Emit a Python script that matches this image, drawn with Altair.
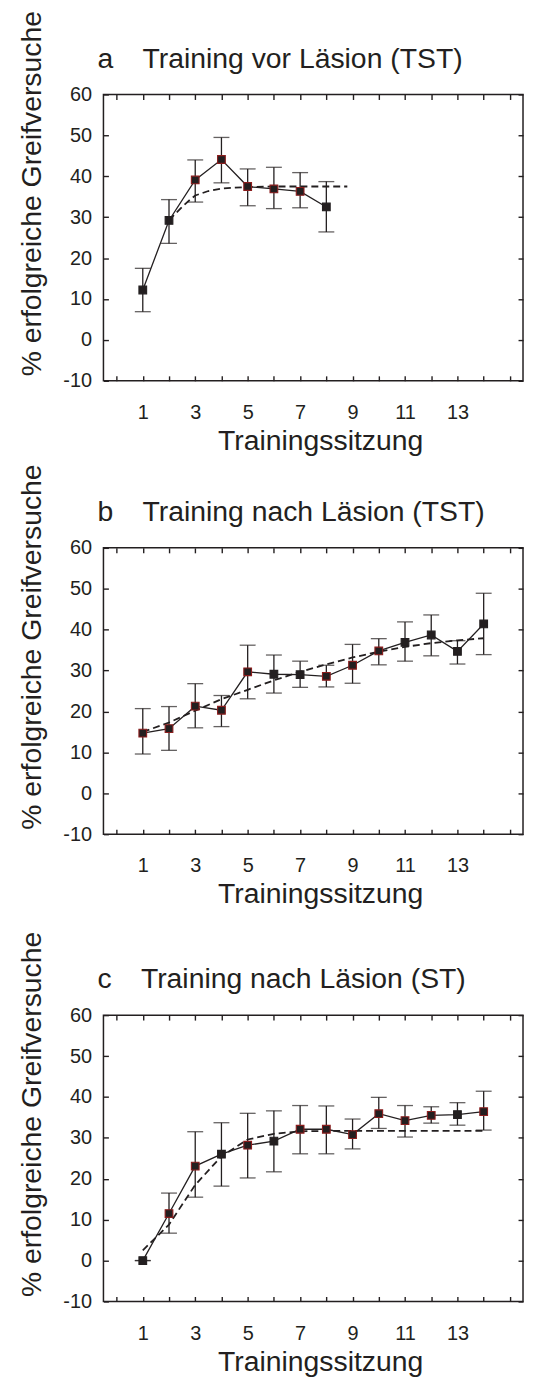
import altair as alt
import pandas as pd

INK = "#231f20"
RED = "#8b1d1d"
FONT = "Liberation Sans"

# ---------------- data ----------------
sessions_a = [1, 2, 3, 4, 5, 6, 7, 8]
mean_a = [12.2, 29.2, 39.1, 44.1, 37.5, 36.9, 36.3, 32.5]
upper_a = [17.5, 34.3, 44.0, 49.5, 41.8, 42.2, 40.9, 38.7]
lower_a = [6.9, 23.6, 33.7, 38.4, 32.8, 32.1, 32.3, 26.4]
outline_a = ["plain", "plain", "red", "red", "red", "red", "red", "plain"]
fit_x_a = [2, 2.5, 2.75, 3, 3.5, 4, 5, 6, 8.8]
fit_y_a = [29.3, 32.5, 34.0, 35.3, 36.4, 37.0, 37.4, 37.5, 37.5]

sessions_b = [1, 2, 3, 4, 5, 6, 7, 8, 9, 10, 11, 12, 13, 14]
mean_b = [14.7, 15.8, 21.3, 20.3, 29.7, 29.1, 29.0, 28.6, 31.3, 34.8, 36.9, 38.7, 34.7, 41.4]
upper_b = [20.7, 21.2, 26.8, 23.9, 36.2, 33.8, 32.3, 31.3, 36.4, 37.8, 41.9, 43.6, 37.3, 48.9]
lower_b = [9.6, 10.5, 16.0, 16.3, 23.1, 24.5, 25.9, 26.0, 26.9, 31.4, 32.3, 33.6, 31.6, 33.9]
outline_b = ["red", "red", "red", "red", "red", "plain", "plain", "red", "red", "red",
             "plain", "plain", "plain", "plain"]
fit_x_b = [1, 2, 3, 4, 5, 6, 7, 8, 9, 10, 11, 12, 13, 14]
fit_y_b = [15.0, 17.3, 20.2, 23.0, 25.3, 27.6, 29.7, 31.5, 33.2, 34.6, 35.8, 36.7, 37.4, 37.9]

sessions_c = [1, 2, 3, 4, 5, 6, 7, 8, 9, 10, 11, 12, 13, 14]
mean_c = [0.0, 11.5, 23.1, 26.0, 28.2, 29.2, 32.1, 32.1, 30.8, 35.9, 34.2, 35.5, 35.7, 36.4]
upper_c = [0.0, 16.5, 31.5, 33.7, 36.0, 36.6, 37.9, 37.8, 34.6, 39.9, 37.9, 37.6, 38.6, 41.4]
lower_c = [0.0, 6.7, 15.5, 18.2, 20.2, 21.7, 26.1, 26.1, 27.3, 32.3, 30.2, 33.6, 33.1, 31.9]
outline_c = ["plain", "red", "red", "plain", "red", "plain", "red", "red", "red", "red",
             "red", "red", "plain", "red"]
fit_x_c = [1, 2, 3, 4, 5, 6, 7, 8, 14]
fit_y_c = [2.5, 8.8, 18.5, 25.5, 29.6, 31.0, 31.6, 31.7, 31.7]

titles = ["a\u00a0\u00a0\u00a0\u2009Training vor Läsion (TST)",
          "b\u00a0\u00a0\u00a0\u2009Training nach Läsion (TST)",
          "c\u00a0\u00a0\u00a0\u2009Training nach Läsion (ST)"]
x_title = "Trainingssitzung"
y_title = "% erfolgreiche Greifversuche"

x_label_values = [1, 3, 5, 7, 9, 11, 13]
x_tick_values = list(range(0, 16))
y_tick_values = [-10, 0, 10, 20, 30, 40, 50, 60]
x_domain = [-0.5, 15.5]
y_domain = [-10, 60]

W, H = 422, 288


def panel(title, sessions, mean, upper, lower, outline, fit_x, fit_y, extra_gap=0):
    df = pd.DataFrame({"session": sessions, "mean": mean, "upper": upper,
                       "lower": lower, "outline": outline})
    fit = pd.DataFrame({"session": fit_x, "fit": fit_y})
    xs = alt.Scale(domain=x_domain, nice=False, zero=False)
    ys = alt.Scale(domain=y_domain, nice=False, zero=False)

    def tick_axis(orient, values, **kw):
        return alt.Axis(orient=orient, values=values, offset=-5, tickSize=5,
                        tickWidth=1.4, tickColor=INK, labels=False, domain=False,
                        grid=False, **kw)

    # panel heading carried by the top (inner-tick) axis
    top_axis = tick_axis("top", x_tick_values, title=title, titleAnchor="start",
                         titleX=-6.5, titleY=-32.5, titleAlign="left",
                         titleBaseline="alphabetic", titleAngle=0,
                         titleFont=FONT, titleFontSize=28.5, titleFontWeight="normal",
                         titleColor=INK)

    xt = x_title if extra_gap == 0 else [x_title, " "]
    x_kw = {} if extra_gap == 0 else {"titleLineHeight": extra_gap}
    x_main = alt.Axis(orient="bottom", values=x_label_values, ticks=False, tickSize=0,
                      domain=False, grid=False, labelPadding=22, labelFontSize=20,
                      labelFont=FONT, labelColor=INK,
                      title=xt, titlePadding=4, titleX=218, titleAlign="center",
                      titleFont=FONT, titleFontSize=28.5, titleFontWeight="normal",
                      titleColor=INK, **x_kw)
    y_main = alt.Axis(orient="left", values=y_tick_values, ticks=False, tickSize=0,
                      domain=False, grid=False, labelPadding=12, labelFontSize=20,
                      labelFont=FONT, labelColor=INK, labelExpr="'' + datum.value",
                      title=y_title, titlePadding=16, titleAnchor="start", titleY=283,
                      titleFont=FONT, titleFontSize=28.5, titleFontWeight="normal",
                      titleColor=INK)

    fit_line = alt.Chart(fit).mark_line(color=INK, strokeWidth=1.8, strokeDash=[7, 4]).encode(
        x=alt.X("session:Q", scale=xs, axis=x_main),
        y=alt.Y("fit:Q", scale=ys, axis=y_main),
    )
    solid = alt.Chart(df).mark_line(color=INK, strokeWidth=1.3).encode(
        x=alt.X("session:Q", scale=xs, axis=tick_axis("bottom", x_tick_values, title=None)),
        y=alt.Y("mean:Q", scale=ys, axis=tick_axis("left", y_tick_values, title=None)),
    )
    bars = alt.Chart(df).mark_rule(color=INK, strokeWidth=1.3).encode(
        x=alt.X("session:Q", scale=xs, axis=top_axis),
        y=alt.Y("lower:Q", scale=ys, axis=tick_axis("right", y_tick_values, title=None)),
        y2="upper:Q",
    )
    cap_hi = alt.Chart(df).mark_tick(color=INK, orient="horizontal", size=16, thickness=1.3).encode(
        x=alt.X("session:Q", scale=xs, axis=None),
        y=alt.Y("upper:Q", scale=ys, axis=None),
    )
    cap_lo = alt.Chart(df).mark_tick(color=INK, orient="horizontal", size=16, thickness=1.3).encode(
        x=alt.X("session:Q", scale=xs, axis=None),
        y=alt.Y("lower:Q", scale=ys, axis=None),
    )
    pts = alt.Chart(df).mark_point(shape="square", filled=True, size=60, fill=INK,
                                   strokeWidth=1.1, opacity=1).encode(
        x=alt.X("session:Q", scale=xs, axis=None),
        y=alt.Y("mean:Q", scale=ys, axis=None),
        stroke=alt.Stroke("outline:N", scale=alt.Scale(domain=["plain", "red"], range=[INK, RED]),
                          legend=None),
    )
    return alt.layer(fit_line, solid, bars, cap_hi, cap_lo, pts).resolve_axis(
        x="independent", y="independent"
    ).properties(width=W, height=H)


pa = panel(titles[0], sessions_a, mean_a, upper_a, lower_a, outline_a, fit_x_a, fit_y_a)
pb = panel(titles[1], sessions_b, mean_b, upper_b, lower_b, outline_b, fit_x_b, fit_y_b,
           extra_gap=14)
pc = panel(titles[2], sessions_c, mean_c, upper_c, lower_c, outline_c, fit_x_c, fit_y_c)

chart = alt.vconcat(pa, pb, pc, spacing=6).properties(
    padding={"left": 9, "top": -3, "right": 0, "bottom": 0},
    background="white",
).configure_view(stroke=INK, strokeWidth=1.5)

chart.save("out.html", embed_options={"renderer": "svg", "actions": False})
